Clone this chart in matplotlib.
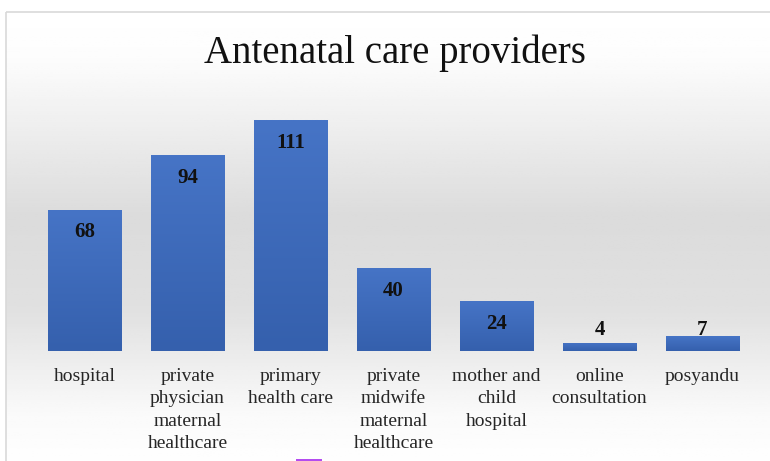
import numpy as np
import matplotlib.pyplot as plt
from matplotlib.patches import Rectangle
from matplotlib.colors import LinearSegmentedColormap

# Data
categories = ["hospital", "private\nphysician\nmaternal\nhealthcare", "primary\nhealth care",
              "private\nmidwife\nmaternal\nhealthcare", "mother and\nchild\nhospital",
              "online\nconsultation", "posyandu"]
counts = [68, 94, 111, 40, 24, 4, 7]

plt.rcParams['font.family'] = ['Liberation Serif', 'DejaVu Serif']

fig = plt.figure(figsize=(7.7, 4.61), dpi=100)

# Background with grey vertical gradient and light border
bg = fig.add_axes([0, 0, 1, 1], zorder=0)
bg.set_xlim(0, 770)
bg.set_ylim(461, 0)
bg.axis('off')
ys = np.linspace(0, 1, 200)
shade = np.interp(ys, [0, 0.1, 0.45, 0.65, 0.88, 1.0], [1.0, 0.99, 0.86, 0.88, 0.98, 1.0])
grad = np.repeat(shade[:, None], 2, axis=1)
bg.imshow(grad, cmap='gray', vmin=0, vmax=1, extent=[6, 772, 470, 12], aspect='auto')
bg.add_patch(Rectangle((6, 12), 780, 470, fill=False, edgecolor='#d9d9d9', lw=1.2))
bg.add_patch(Rectangle((296, 458.5), 26, 3, color='#b44cf0', lw=0))

ax = fig.add_axes([33 / 770, 1 - 351 / 461, 721 / 770, 249.7 / 461], zorder=1)
ax.patch.set_alpha(0)
x = np.arange(len(categories))
bars = ax.bar(x, counts, width=0.71, color='#4169b8', edgecolor='#7a9ad6', linewidth=0.6)

# blue vertical gradient inside each bar
bar_cmap = LinearSegmentedColormap.from_list('bars', ['#3560ad', '#4674c6'])
gy = np.linspace(0, 1, 100)[:, None]
for b in bars:
    x0, w, h = b.get_x(), b.get_width(), b.get_height()
    im = ax.imshow(gy, cmap=bar_cmap, extent=[x0, x0 + w, 0, h], origin='lower',
                   aspect='auto', zorder=2)
    im.set_clip_path(b)

for xi, v in zip(x, counts):
    ax.annotate(str(v), (xi, max(v, 21)), xytext=(0, -16.5), textcoords='offset points',
                ha='center', va='center', fontsize=15, fontweight='bold', color='#111111',
                zorder=3)

ax.set_xlim(-0.5, len(categories) - 0.5)
ax.set_ylim(0, 120)
ax.set_xticks(x)
ax.set_xticklabels(categories, fontsize=14, color='#262626', linespacing=1.39)
ax.tick_params(axis='x', length=0, pad=12.5)
ax.set_yticks([])
for s in ax.spines.values():
    s.set_visible(False)

fig.text(0.513, 0.884, "Antenatal care providers", ha='center', va='center',
         fontsize=28, color='#111111')

fig.savefig("out.png", dpi=100)
